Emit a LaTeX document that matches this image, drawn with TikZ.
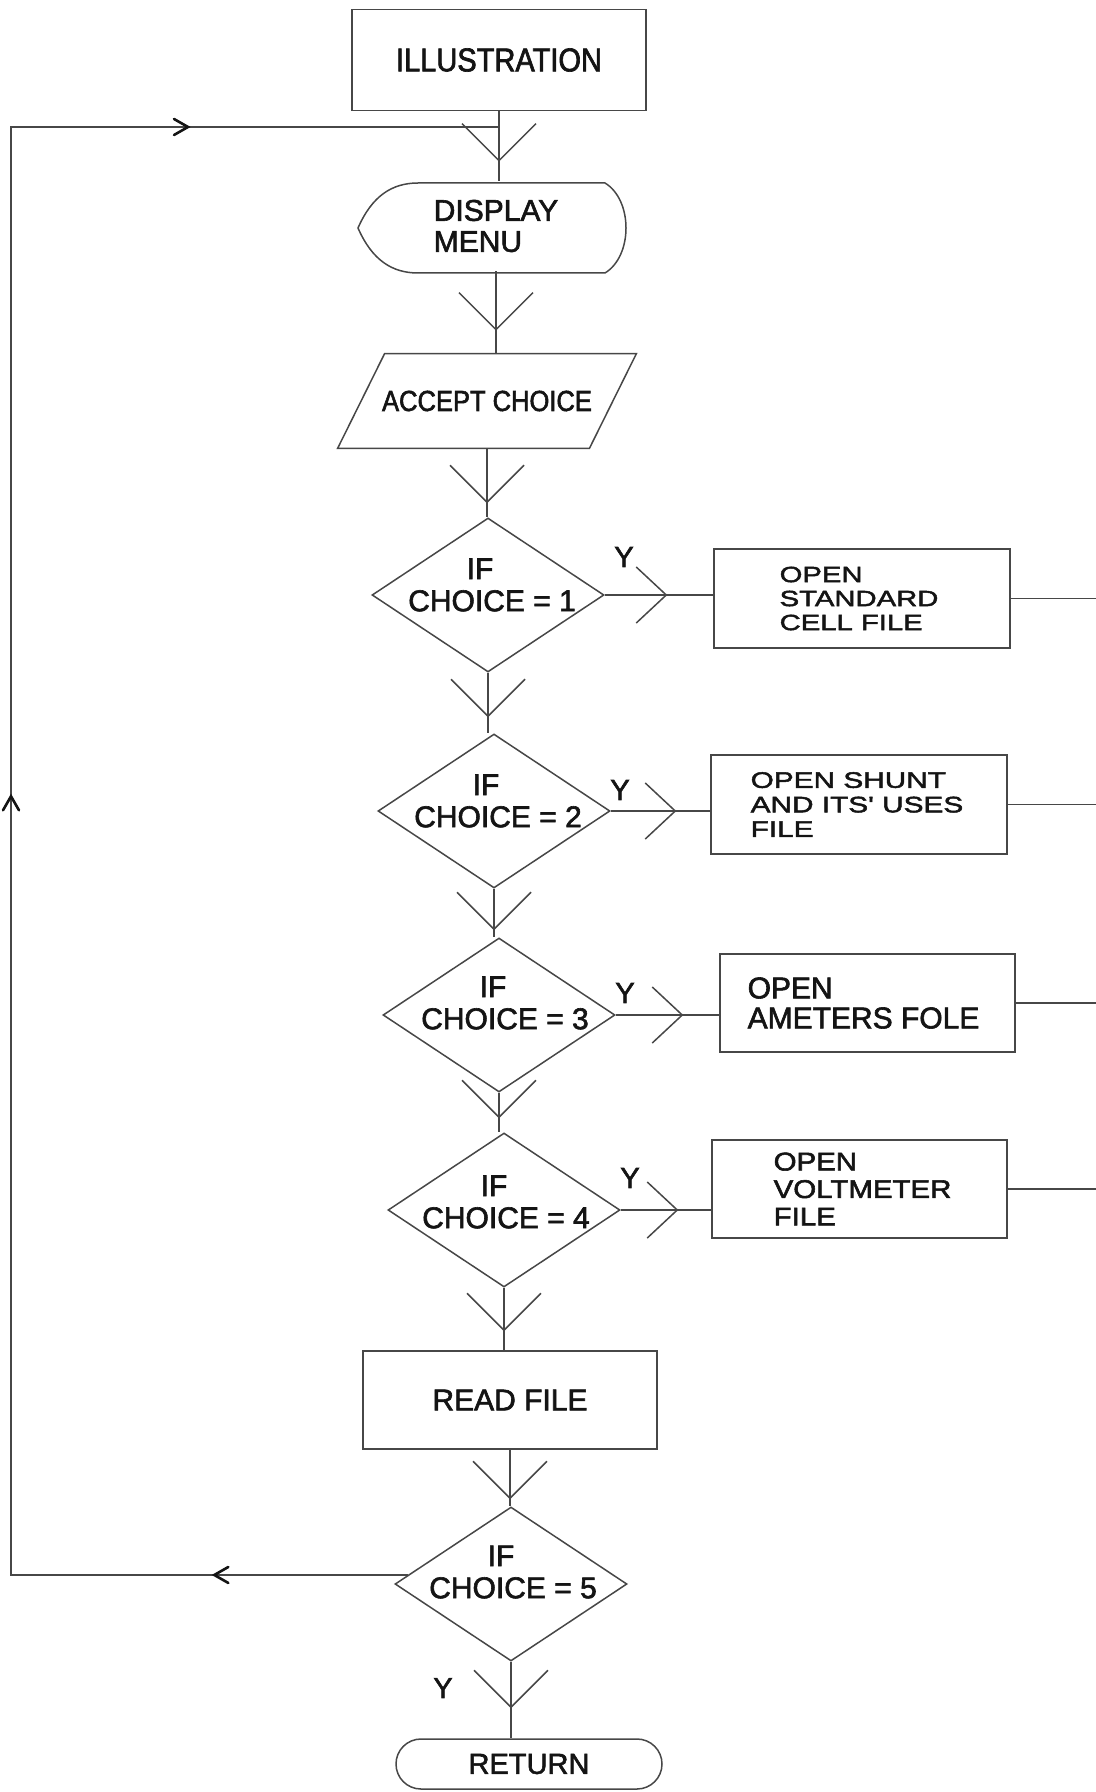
\documentclass[tikz,border=0pt]{standalone}
\usepackage{fontspec}
\setmainfont{Liberation Sans}[FakeBold=2]
\newfontfamily\plainsans{Liberation Sans}[FakeBold=2]
\newfontfamily\narrowsans{Liberation Sans}[FakeStretch=0.88, FakeBold=2]
\newfontfamily\widesans{Liberation Sans}[FakeStretch=1.33, FakeBold=2.2]
\newfontfamily\midsans{Liberation Sans}[FakeStretch=1.15, FakeBold=2.2]
\usetikzlibrary{shapes.geometric, decorations.markings, calc}

\definecolor{ink}{gray}{0.08}
\definecolor{rule}{gray}{0.28}
\definecolor{faint}{gray}{0.55}

\begin{document}
\begin{tikzpicture}[x=0.5pt, y=-0.5pt,
  every node/.style={text=ink},
  line/.style={draw=rule, line width=0.75pt},
  procbox/.style={rectangle, draw=rule, line width=0.75pt, inner sep=0pt},
  decision/.style={diamond, draw=rule, line width=0.75pt, minimum width=116pt, minimum height=77pt, inner sep=0pt},
  dtext/.style={font=\plainsans\fontsize{15}{16}\selectfont, align=center, inner sep=0pt},
  ylabel/.style={font=\plainsans\fontsize{14.5}{16}\selectfont, inner sep=0pt},
  vee/.style={postaction={decorate, decoration={markings, mark=at position #1 with {\draw[draw=rule, line width=0.75pt] (-18.5pt,18.5pt) -- (0pt,0pt) -- (-18.5pt,-18.5pt);}}}},
  hvee/.style={postaction={decorate, decoration={markings, mark=at position #1 with {\draw[draw=rule, line width=0.75pt] (-15pt,14pt) -- (0pt,0pt) -- (-15pt,-14pt);}}}},
  chev/.style={postaction={decorate, decoration={markings, mark=at position #1 with {\draw[draw=ink, line width=1.3pt, line cap=round] (-7pt,4pt) -- (0pt,0pt) -- (-7pt,-4pt);}}}},
]
\useasboundingbox (0,0) rectangle (1096,1792);

% main column
\node[procbox, minimum width=147pt, minimum height=50.5pt,
      font=\narrowsans\fontsize{16.5}{18}\selectfont] (illus) at (499,60) {ILLUSTRATION};

\node[inner sep=0pt, minimum width=134pt, minimum height=45pt, align=left,
      font=\plainsans\fontsize{15}{15.5}\selectfont] (disp) at (496,226) {DISPLAY\\MENU};
\draw[line] (358,228) .. controls (372,196) and (392,183) .. (418,183) -- (605,183)
  .. controls (633,200) and (633,256) .. (605,273) -- (418,273)
  .. controls (392,273) and (372,260) .. (358,228) -- cycle;

\node[inner sep=0pt, minimum width=125.5pt, minimum height=47pt,
      font=\narrowsans\fontsize{14.5}{16}\selectfont] (acc) at (487,401) {ACCEPT CHOICE};
\draw[line] ($(acc.north west)+(23.5,0)$) -- ($(acc.north east)+(23.5,0)$)
  -- ($(acc.south east)+(-23.5,0)$) -- ($(acc.south west)+(-23.5,0)$) -- cycle;

\node[decision] (d1) at (488,595) {};
\node[dtext] (d1t) at ([xshift=2pt,yshift=5pt]d1.center) {IF\hspace*{12pt}\\CHOICE = 1};
\node[decision] (d2) at (494,811) {};
\node[dtext] (d2t) at ([xshift=2pt,yshift=5pt]d2.center) {IF\hspace*{12pt}\\CHOICE = 2};
\node[decision] (d3) at (499,1015) {};
\node[dtext] (d3t) at ([xshift=3pt,yshift=6pt]d3.center) {IF\hspace*{12pt}\\CHOICE = 3};
\node[decision] (d4) at (504,1210) {};
\node[dtext] (d4t) at ([xshift=1pt,yshift=4pt]d4.center) {IF\hspace*{12pt}\\CHOICE = 4};

\node[procbox, minimum width=147pt, minimum height=49pt,
      font=\plainsans\fontsize{15}{16}\selectfont] (rf) at (510,1400) {READ FILE};

\node[decision] (d5) at (511,1584) {};
\node[dtext] (d5t) at ([xshift=1pt,yshift=6pt]d5.center) {IF\hspace*{12pt}\\CHOICE = 5};

\node[rectangle, rounded corners=12.5pt, draw=rule, line width=0.75pt,
      minimum width=133pt, minimum height=25pt, inner sep=0pt,
      font=\plainsans\fontsize{14.5}{16}\selectfont] (ret) at (529,1764) {RETURN};

% file boxes
\node[procbox, minimum width=148pt, minimum height=49.5pt] (b1) at (862,598.5) {};
\node[anchor=west, align=left, inner sep=0pt, font=\widesans\fontsize{11}{12}\selectfont]
  (b1t) at ([xshift=33pt]b1.west) {OPEN\\STANDARD\\CELL FILE};
\node[procbox, minimum width=148pt, minimum height=49.5pt] (b2) at (859,804.5) {};
\node[anchor=west, align=left, inner sep=0pt, font=\widesans\fontsize{11.2}{12.25}\selectfont]
  (b2t) at ([xshift=20pt]b2.west) {OPEN SHUNT\\AND ITS' USES\\FILE};
\node[procbox, minimum width=147.5pt, minimum height=49pt] (b3) at (867.5,1003) {};
\node[anchor=west, align=left, inner sep=0pt, font=\plainsans\fontsize{15}{15}\selectfont]
  (b3t) at ([xshift=14pt]b3.west) {OPEN\\AMETERS FOLE};
\node[procbox, minimum width=147.5pt, minimum height=49pt] (b4) at (859.5,1189) {};
\node[anchor=west, align=left, inner sep=0pt, font=\midsans\fontsize{12.8}{13.75}\selectfont]
  (b4t) at ([xshift=31pt]b4.west) {OPEN\\VOLTMETER\\FILE};

% Y labels
\node[ylabel] (y1) at (624,557) {Y};
\node[ylabel] (y2) at (620,790) {Y};
\node[ylabel] (y3) at (625,993) {Y};
\node[ylabel] (y4) at (630,1178) {Y};
\node[ylabel] (y5) at (443,1688) {Y};

% flow down the main column
\draw[line, vee=-10pt] (illus.south) -- (illus.south |- disp.north);
\draw[line, vee=-12pt] (disp.south) -- (disp.south |- acc.north);
\draw[line, vee=-7.5pt] (acc.south) -- (acc.south |- d1.north);
\draw[line, vee=-8.5pt] (d1.south) -- (d1.south |- d2.north);
\draw[line, vee=-4pt] (d2.south) -- (d2.south |- d3.north);
\draw[line, vee=-7.5pt] (d3.south) -- (d3.south |- d4.north);
\draw[line, vee=-10pt] (d4.south) -- (d4.south |- rf.north);
\draw[line, vee=-4pt] (rf.south) -- (rf.south |- d5.north);
\draw[line, vee=-15.5pt] (d5.south) -- (d5.south |- ret.north);

% yes branches
\draw[line, hvee=-23.5pt] (d1.east) -- (d1.east -| b1.west);
\draw[line, hvee=-17.5pt] (d2.east) -- (d2.east -| b2.west);
\draw[line, hvee=-18.5pt] (d3.east) -- (d3.east -| b3.west);
\draw[line, hvee=-17pt] (d4.east) -- (d4.east -| b4.west);

% outputs of the file boxes, joined at the right margin
\coordinate (rx) at (1096,0);
\draw[line] (b1.east) -- (b1.east -| rx);
\draw[line] (b2.east) -- (b2.east -| rx);
\draw[line] (b3.east) -- (b3.east -| rx);
\draw[line] (b4.east) -- (b4.east -| rx);
\draw[draw=faint, line width=0.75pt] ([xshift=0.3pt]b1.east -| rx) -- ([xshift=0.3pt]b4.east -| rx);

% loop back to the menu
\coordinate (jn) at (499,127);
\coordinate (lx) at (11,127);
\draw[line, chev=96.75pt, chev=587.75pt, chev=-155.5pt]
  (d5.175) -- (d5.175 -| lx) -- (lx) -- (jn);
\end{tikzpicture}
\end{document}
